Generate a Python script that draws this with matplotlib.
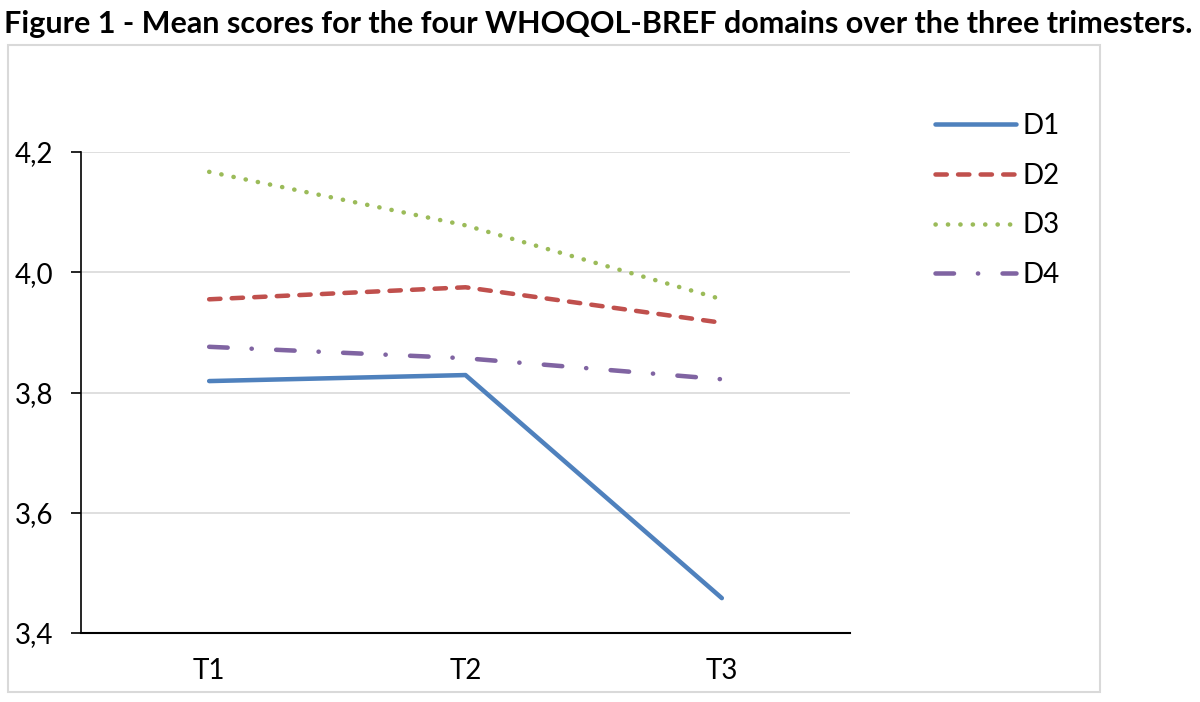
import matplotlib
matplotlib.use("Agg")
import matplotlib.pyplot as plt
from matplotlib.patches import Rectangle

categories = ["T1", "T2", "T3"]
d1 = [3.819, 3.829, 3.458]
d2 = [3.955, 3.975, 3.916]
d3 = [4.167, 4.078, 3.955]
d4 = [3.876, 3.857, 3.822]
series_names = ["D1", "D2", "D3", "D4"]
yticks = [3.4, 3.6, 3.8, 4.0, 4.2]
ytick_labels = ["3,4", "3,6", "3,8", "4,0", "4,2"]
title = "Figure 1 - Mean scores for the four WHOQOL-BREF domains over the three trimesters."

plt.rcParams['font.family'] = ['Lato', 'DejaVu Sans']

W, H = 1200, 702
fig = plt.figure(figsize=(W/100, H/100), dpi=100)

# outer chart border
fig.patches.append(Rectangle((8/W, 1-692/H), (1100-8)/W, (692-45)/H,
                             transform=fig.transFigure, fill=False,
                             edgecolor="#D9D9D9", linewidth=1.5))

fig.text(4/W, 1-24/H, title, fontsize=22, fontweight='bold', va='center', ha='left')

ax = fig.add_axes([81/W, 1-633/H, (850-81)/W, (633-152)/H])
x = list(range(len(categories)))
lw = 3.25
styles = [
    dict(color="#4F81BD", linestyle='-'),
    dict(color="#C0504D", dashes=(2.5, 2.5)),
    dict(color="#9BBB59", dashes=(0.05, 2.7)),
    dict(color="#8064A2", dashes=(4.1, 5.3, 0.05, 5.4)),
]
for vals, name, st in zip([d1, d2, d3, d4], series_names, styles):
    ax.plot(x, vals, label=name, linewidth=lw, dash_capstyle='round',
            solid_capstyle='round', **st)

ax.set_xlim(-0.5, 2.5)
ax.set_ylim(3.4, 4.2)
ax.set_yticks(yticks)
ax.set_yticklabels(ytick_labels)
ax.set_xticks(x)
ax.set_xticklabels(categories)
ax.grid(axis='y', color="#D9D9D9", linewidth=1.2)
ax.set_axisbelow(True)
for s in ['top', 'right']:
    ax.spines[s].set_visible(False)
ax.spines['left'].set_linewidth(1.2)
ax.spines['bottom'].set_linewidth(1.5)
ax.tick_params(axis='y', length=7, width=1.2, pad=13, labelsize=20)
ax.tick_params(axis='x', length=0, pad=18, labelsize=20)

leg = fig.legend(loc='upper left', bbox_to_anchor=(924/W, 1-102/H), frameon=False,
                 fontsize=20, handlelength=2.9, labelspacing=0.85, handletextpad=0.25,
                 borderaxespad=0)

fig.savefig("out.png", dpi=100)
